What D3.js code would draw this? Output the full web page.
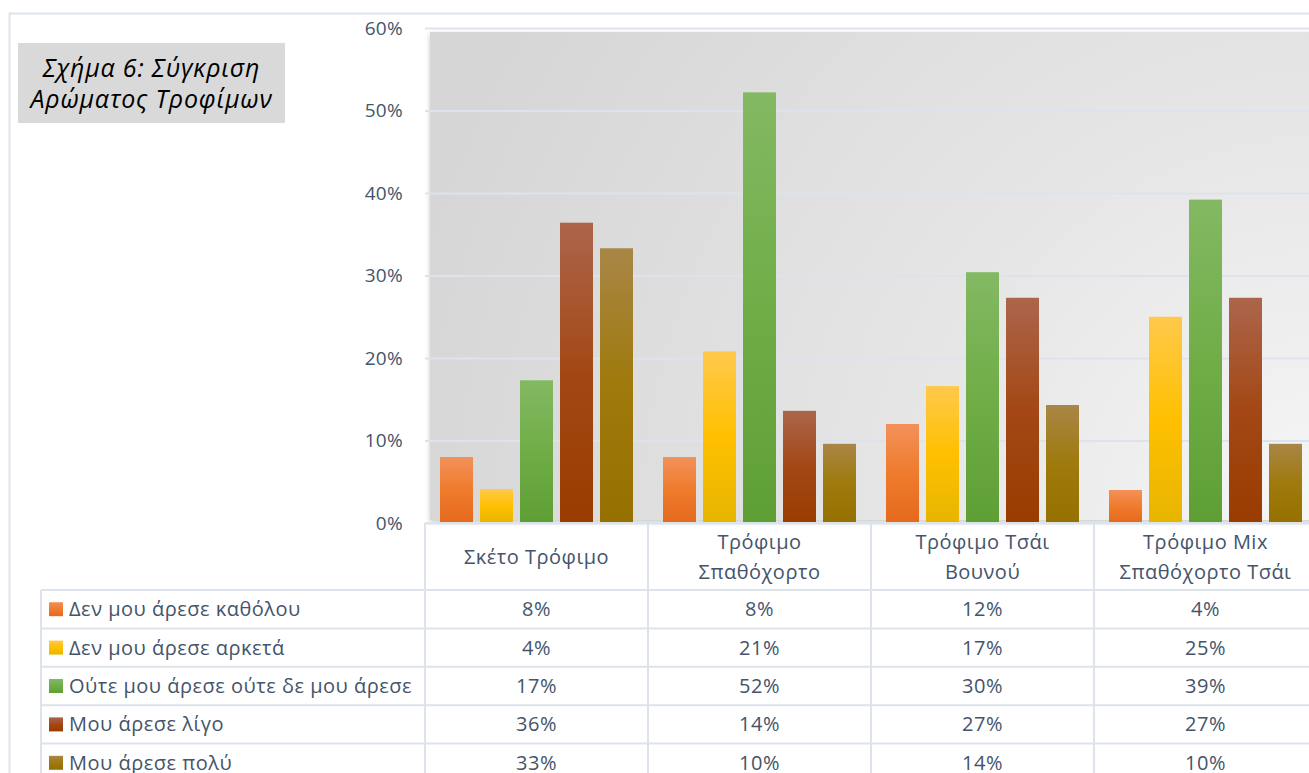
<!DOCTYPE html>
<html>
<head>
<meta charset="utf-8">
<script src="https://cdn.jsdelivr.net/npm/d3@7"></script>
<style>
  html, body { margin: 0; padding: 0; background: #ffffff; }
  svg { display: block; }
  text { font-family: "Open Sans", "Noto Sans", sans-serif; }
</style>
</head>
<body>
<svg id="chart" width="1309" height="773"></svg>
<script>
// Food categories (x groups)
const categories = [
  ["Σκέτο Τρόφιμο"],
  ["Τρόφιμο", "Σπαθόχορτο"],
  ["Τρόφιμο Τσάι", "Βουνού"],
  ["Τρόφιμο Mix", "Σπαθόχορτο Τσάι"]
];
const categoryKeys = ["plain", "sideritis", "mountainTea", "mix"];

// Rating series
const series = [
  "Δεν μου άρεσε καθόλου",
  "Δεν μου άρεσε αρκετά",
  "Ούτε μου άρεσε ούτε δε μου άρεσε",
  "Μου άρεσε λίγο",
  "Μου άρεσε πολύ"
];

// Shares per series, one value per category
const notAtAll   = [0.080, 0.080, 0.120, 0.040];
const notMuch    = [0.041, 0.208, 0.166, 0.250];
const neutral    = [0.173, 0.522, 0.304, 0.392];
const aLittle    = [0.364, 0.136, 0.273, 0.273];
const aLot       = [0.333, 0.096, 0.143, 0.096];
const seriesValues = [notAtAll, notMuch, neutral, aLittle, aLot];

const yTicks = [0, 0.1, 0.2, 0.3, 0.4, 0.5, 0.6];
const title = ["Σχήμα 6: Σύγκριση", "Αρώματος Τροφίμων"];

// Bar fills: light top, base middle, darker bottom
const fills = [
  ["#f3915a", "#ef7b2d", "#e5691d"],
  ["#ffc94c", "#ffc000", "#e7b500"],
  ["#83b963", "#70ad47", "#5e9f35"],
  ["#ac654b", "#a34815", "#993c00"],
  ["#a88646", "#9f7a0c", "#967000"]
];

const textColor = "#44546a";
const lineColor = "#dde3eb";

const svg = d3.select("#chart");
const defs = svg.append("defs");

fills.forEach((f, i) => {
  const g = defs.append("linearGradient")
    .attr("id", "bar" + i).attr("x1", 0).attr("y1", 0).attr("x2", 0).attr("y2", 1);
  g.append("stop").attr("offset", "0%").attr("stop-color", f[0]);
  g.append("stop").attr("offset", "50%").attr("stop-color", f[1]);
  g.append("stop").attr("offset", "100%").attr("stop-color", f[2]);
});

// plot-area background
const bg = defs.append("radialGradient")
  .attr("id", "plotBg").attr("gradientUnits", "userSpaceOnUse")
  .attr("cx", 1330).attr("cy", 540).attr("r", 950);
bg.append("stop").attr("offset", "0%").attr("stop-color", "#f7f7f7");
bg.append("stop").attr("offset", "45%").attr("stop-color", "#e6e6e6");
bg.append("stop").attr("offset", "100%").attr("stop-color", "#d6d6d6");

const shadow = defs.append("filter").attr("id", "plotShadow")
  .attr("x", "-5%").attr("y", "-5%").attr("width", "110%").attr("height", "110%");
shadow.append("feDropShadow").attr("dx", 0).attr("dy", 2)
  .attr("stdDeviation", 2.5).attr("flood-color", "#000").attr("flood-opacity", 0.22);

// Layout
const plotLeft = 425, plotRight = 1317, plotTop = 28, plotBottom = 523;
const rowH = 38.4;
const headerBottom = 590;
const legendLeft = 41;
const fontSize = 20, spacing = 0.5;

const x0 = d3.scaleBand().domain(categoryKeys).range([plotLeft, plotRight]);
const x1 = d3.scaleBand().domain(d3.range(series.length))
  .range([0, x0.bandwidth()]).paddingInner(0.175).paddingOuter(0.375);
const y = d3.scaleLinear().domain([0, 0.6]).range([plotBottom, plotTop]);

// chart frame
svg.append("path")
  .attr("d", `M9.5,773 V13.5 H1309`)
  .attr("fill", "none").attr("stroke", lineColor).attr("stroke-width", 2);

// Title box
svg.append("rect").attr("x", 18).attr("y", 43).attr("width", 267).attr("height", 80)
  .attr("fill", "#d9d9d9");
svg.append("g").selectAll("text").data(title).join("text")
  .attr("x", 151.5).attr("y", (d, i) => 77 + i * 30.5)
  .attr("text-anchor", "middle")
  .attr("font-size", 25).attr("letter-spacing", 0.8)
  .attr("font-style", "italic").attr("fill", "#000")
  .text(d => d);

// plot area
svg.append("rect")
  .attr("x", 430).attr("y", 32).attr("width", 885).attr("height", 488)
  .attr("fill", "url(#plotBg)").attr("filter", "url(#plotShadow)");

// gridlines + y axis
const yAxis = d3.axisLeft(y).tickValues(yTicks).tickFormat(d3.format(".0%"))
  .tickSize(plotLeft - plotRight).tickPadding(22);
const gy = svg.append("g").attr("transform", `translate(${plotLeft},0)`).call(yAxis);
gy.select(".domain").remove();
gy.selectAll(".tick line").attr("stroke", lineColor).attr("stroke-width", 2);
gy.selectAll(".tick text").attr("fill", textColor).attr("font-size", 19)
  .attr("letter-spacing", 0.3)
  .attr("font-family", "\"Open Sans\", \"Noto Sans\", sans-serif");

// bars
const groups = svg.append("g").selectAll("g").data(categoryKeys).join("g")
  .attr("transform", d => `translate(${x0(d)},0)`);
groups.selectAll("rect")
  .data((d, ci) => seriesValues.map((vals, si) => ({ si, v: vals[ci] })))
  .join("rect")
  .attr("x", d => x1(d.si))
  .attr("width", x1.bandwidth())
  .attr("y", d => y(d.v))
  .attr("height", d => y(0) - y(d.v))
  .attr("fill", d => `url(#bar${d.si})`);

// data table
const table = svg.append("g");
const fmt = d3.format(".0%");

// horizontal rules
const rowLines = d3.range(series.length + 1).map(i => headerBottom + i * rowH);
table.selectAll("line.h").data(rowLines).join("line")
  .attr("x1", legendLeft).attr("x2", 1309)
  .attr("y1", d => d).attr("y2", d => d)
  .attr("stroke", lineColor).attr("stroke-width", 2);
table.append("line").attr("x1", plotLeft).attr("x2", 1309)
  .attr("y1", plotBottom).attr("y2", plotBottom)
  .attr("stroke", lineColor).attr("stroke-width", 2);

// vertical rules
table.selectAll("line.v").data(categoryKeys).join("line")
  .attr("x1", d => x0(d)).attr("x2", d => x0(d))
  .attr("y1", plotBottom).attr("y2", 773)
  .attr("stroke", lineColor).attr("stroke-width", 2);
table.append("line").attr("x1", legendLeft).attr("x2", legendLeft)
  .attr("y1", headerBottom).attr("y2", 773)
  .attr("stroke", lineColor).attr("stroke-width", 2);

// category headers
categoryKeys.forEach((k, ci) => {
  const lines = categories[ci];
  const cx = x0(k) + x0.bandwidth() / 2;
  const mid = (plotBottom + headerBottom) / 2;
  table.append("g").selectAll("text").data(lines).join("text")
    .attr("x", cx)
    .attr("y", (d, i) => mid + (i - (lines.length - 1) / 2) * 30)
    .attr("dy", "0.35em")
    .attr("text-anchor", "middle")
    .attr("font-size", fontSize).attr("letter-spacing", spacing).attr("fill", textColor)
    .text(d => d);
});

// legend column + values
series.forEach((name, si) => {
  const cy = headerBottom + si * rowH + rowH / 2;
  table.append("rect").attr("x", 49).attr("y", cy - 7).attr("width", 14).attr("height", 14)
    .attr("fill", `url(#bar${si})`);
  table.append("text").attr("x", 69).attr("y", cy).attr("dy", "0.35em")
    .attr("font-size", fontSize).attr("letter-spacing", spacing).attr("fill", textColor)
    .text(name);
  categoryKeys.forEach((k, ci) => {
    table.append("text")
      .attr("x", x0(k) + x0.bandwidth() / 2).attr("y", cy).attr("dy", "0.35em")
      .attr("text-anchor", "middle")
      .attr("font-size", fontSize).attr("letter-spacing", spacing).attr("fill", textColor)
      .text(fmt(seriesValues[si][ci]));
  });
});
</script>
</body>
</html>
